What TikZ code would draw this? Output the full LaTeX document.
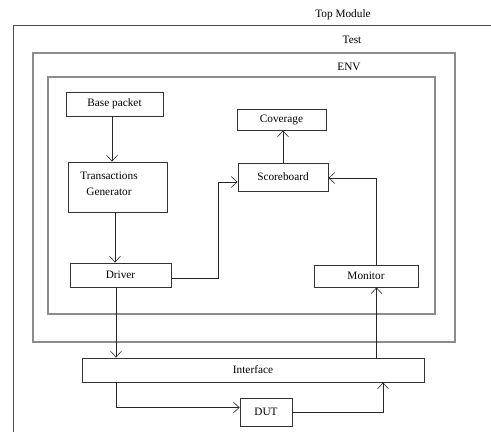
\documentclass[tikz,border=0pt]{standalone}
\usepackage{fontspec}
\setmainfont{Liberation Serif}
\usetikzlibrary{arrows.meta}
\begin{document}
\begin{tikzpicture}[x=1pt,y=-1pt,
  outer/.style={draw=black!45,line width=1.3pt},
  blk/.style={draw=black!80,line width=0.8pt,inner sep=0pt,font=\fontsize{11.3}{13}\selectfont,align=center},
  lbl/.style={inner sep=0pt,font=\fontsize{11.3}{13}\selectfont},
  arr/.style={draw=black!85,line width=0.7pt,-{Straight Barb[length=6pt,width=11pt,line width=0.6pt]}},
  ln/.style={draw=black!85,line width=0.7pt}]
\useasboundingbox (0,0) rectangle (491,432);
\fill[white] (0,0) rectangle (491,432);
% Top module (open to right and bottom)
\draw[line width=0.8pt,draw=black!70] (491,25) -- (13,25) -- (13,432);
\node[lbl] (ttop) at (343,15) {Top Module};
% Test
\node[outer,minimum width=422pt,minimum height=289pt,inner sep=0pt] (test) at (244,197.5) {};
\node[lbl] (ttest) at (352,40) {Test};
% ENV
\node[outer,minimum width=387pt,minimum height=237pt,inner sep=0pt] (env) at (241.5,195.5) {};
\node[lbl] (tenv) at (349,67) {ENV};
% blocks
\node[blk,minimum width=97pt,minimum height=24pt] (base) at (114.5,104) {Base packet};
\node[blk,minimum width=89pt,minimum height=21pt] (cov) at (281.5,119.5) {Coverage};
\node[blk,minimum width=99pt,minimum height=50pt] (tg) at (117.5,187) {};
\node[lbl,align=center,font=\fontsize{11.3}{16}\selectfont] (tgt) at (109,184) {Transactions\\Generator};
\node[blk,minimum width=90pt,minimum height=28pt] (sb) at (283,177) {Scoreboard};
\node[blk,minimum width=101pt,minimum height=24pt] (drv) at (120.5,275) {Driver};
\node[blk,minimum width=104pt,minimum height=22pt] (mon) at (366,276) {Monitor};
\node[blk,minimum width=342pt,minimum height=24pt] (ifc) at (253,370) {Interface};
\node[blk,minimum width=52pt,minimum height=28pt] (dut) at (266,412) {DUT};
% connectors
\draw[arr] ([xshift=-2.5pt]base.south) -- ([xshift=-2.5pt]base.south |- tg.north);
\draw[arr] ([xshift=-2.5pt]tg.south) -- ([xshift=-2.5pt]tg.south |- drv.north);
\draw[arr] ([yshift=-3pt]drv.east) -- ++(47,0) |- ([yshift=-5pt]sb.west);
\draw[arr] (sb.north) -- (sb.north |- cov.south);
\draw[arr] ([xshift=10pt]mon.north) |- ([yshift=-1pt]sb.east);
\draw[arr] ([xshift=-4.5pt]drv.south) -- ([xshift=-4.5pt]drv.south |- ifc.north);
\draw[arr] ([xshift=10.5pt]mon.south |- ifc.north) -- ([xshift=10.5pt]mon.south);
\draw[arr] ([xshift=-4.5pt]drv.south |- ifc.south) |- ([yshift=4.5pt]dut.west);
\draw[arr] (dut.east) -| ([xshift=130pt]ifc.south);
\end{tikzpicture}
\end{document}
